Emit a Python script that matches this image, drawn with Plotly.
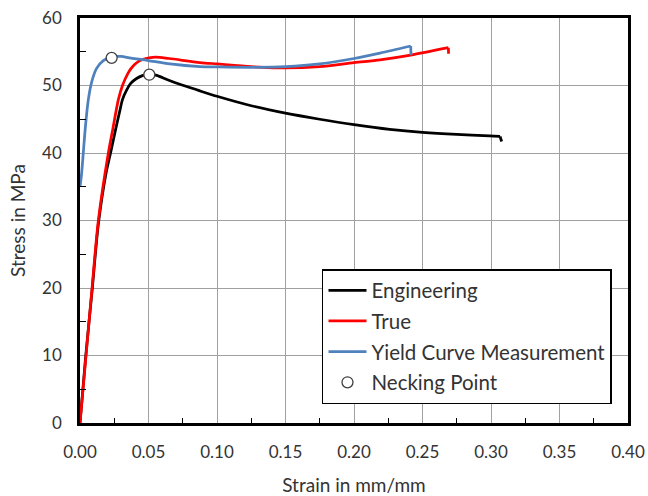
import plotly.graph_objects as go

# Engineering stress-strain
eng_x = [0, 0.004, 0.009, 0.0134, 0.019, 0.0225, 0.026, 0.029, 0.031, 0.034, 0.037, 0.041, 0.046, 0.0506,
         0.056, 0.0657, 0.0876, 0.10, 0.125, 0.15, 0.175, 0.20, 0.226, 0.25, 0.275, 0.299, 0.3066]
eng_y = [0, 9.5, 20, 29.5, 37, 40.2, 43.5, 46.2, 47.9, 49.3, 50.3, 51.0, 51.5, 51.7,
         51.5, 50.7, 49.2, 48.4, 47.0, 45.9, 45.0, 44.2, 43.5, 43.05, 42.75, 42.55, 42.45]
eng_hook_x = [0.3066, 0.3078]
eng_hook_y = [42.45, 41.7]

# True stress-strain
true_x = [0, 0.0044, 0.0088, 0.0134, 0.0207, 0.024, 0.028, 0.031, 0.035, 0.038, 0.043, 0.048, 0.055,
          0.065, 0.0876, 0.10, 0.125, 0.15, 0.175, 0.20, 0.219, 0.2414, 0.2689]
true_y = [0, 10, 20, 30, 40, 43.6, 47.9, 50.0, 51.8, 52.7, 53.6, 54.0, 54.2,
          54.0, 53.4, 53.2, 52.8, 52.6, 52.8, 53.4, 53.8, 54.5, 55.6]
true_hook_x = [0.2689, 0.2690]
true_hook_y = [55.6, 54.7]

# Yield curve measurement
yc_x = [0, 0.0012, 0.0024, 0.004, 0.006, 0.0085, 0.012, 0.017, 0.0231, 0.030, 0.036, 0.043, 0.05, 0.0657,
        0.0876, 0.10, 0.125, 0.15, 0.175, 0.20, 0.219, 0.2414]
yc_y = [35, 37, 40, 44, 47.8, 50.5, 52.5, 53.7, 54.2, 54.3, 54.1, 53.9, 53.7, 53.2,
        52.8, 52.75, 52.7, 52.8, 53.2, 54.0, 54.8, 55.85]
yc_hook_x = [0.2414, 0.2416]
yc_hook_y = [55.85, 54.5]

# Necking points
neck_x = [0.0231, 0.0506]
neck_y = [54.1, 51.6]

FONT = "Lato"
TXT = "#333333"
LW = 2.75

fig = go.Figure()


def add_curve(xs, ys, hx, hy, name, color, group):
    fig.add_trace(go.Scatter(x=xs, y=ys, mode="lines", name=name, legendgroup=group,
                             line=dict(color=color, width=LW, shape="spline", smoothing=0.8)))
    fig.add_trace(go.Scatter(x=hx, y=hy, mode="lines", name=name, legendgroup=group,
                             showlegend=False, hoverinfo="skip",
                             line=dict(color=color, width=LW)))


add_curve(eng_x, eng_y, eng_hook_x, eng_hook_y, "Engineering", "#000000", "a")
add_curve(true_x, true_y, true_hook_x, true_hook_y, "True", "#FF0000", "b")
add_curve(yc_x, yc_y, yc_hook_x, yc_hook_y, "Yield Curve Measurement", "#4F81BD", "c")
fig.add_trace(go.Scatter(x=neck_x, y=neck_y, mode="markers", name="Necking Point",
                         legendgroup="d",
                         marker=dict(symbol="circle", size=11, color="white",
                                     line=dict(color="#404040", width=1.3))))

fig.update_layout(
    width=648, height=496,
    margin=dict(l=80, r=20, t=18, b=73, autoexpand=False),
    paper_bgcolor="white", plot_bgcolor="white",
    font=dict(family=FONT, size=17, color=TXT),
    showlegend=True,
    legend=dict(x=0.4416, y=0.3802, xanchor="left", yanchor="top",
                bgcolor="white", bordercolor="#000000", borderwidth=1.5,
                itemwidth=38, tracegroupgap=1,
                font=dict(family=FONT, size=20.5, color=TXT)),
)
fig.update_xaxes(
    range=[0, 0.4], dtick=0.05, tick0=0, tickformat=".2f", automargin=False,
    showgrid=True, gridcolor="#A0A0A0", gridwidth=1.2, zeroline=False,
    showline=True, linecolor="#000000", linewidth=2.5, mirror=True,
    ticks="", ticklabelstandoff=12,
    minor=dict(dtick=0.025, ticks="inside", ticklen=5, tickcolor="#000000", tickwidth=1, showgrid=False),
    title=dict(text="Strain in mm/mm", standoff=19, font=dict(family=FONT, size=19, color=TXT)),
)
fig.update_yaxes(
    range=[0, 60], dtick=10, tick0=0, automargin=False,
    showgrid=True, gridcolor="#A0A0A0", gridwidth=1.2, zeroline=False,
    showline=True, linecolor="#000000", linewidth=2.5, mirror=True,
    ticks="", ticklabelstandoff=12,
    minor=dict(dtick=5, ticks="inside", ticklen=6, tickcolor="#000000", tickwidth=1, showgrid=False),
    title=dict(text="Stress in MPa", standoff=12, font=dict(family=FONT, size=19, color=TXT)),
)

fig.write_html("out.html")
